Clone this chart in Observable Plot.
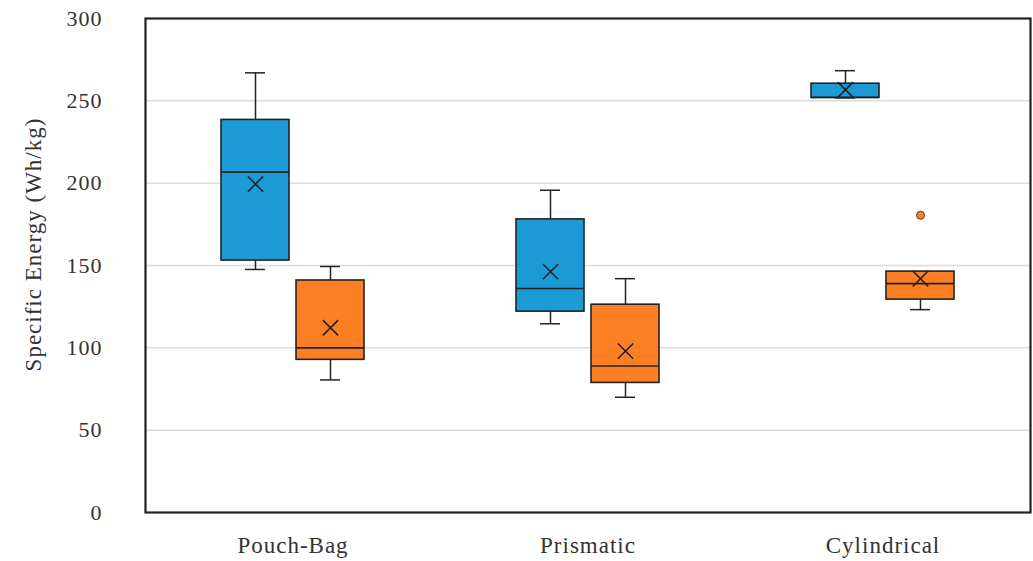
<!DOCTYPE html>
<html>
<head>
<meta charset="utf-8">
<script src="https://cdn.jsdelivr.net/npm/d3@7"></script>
<script src="https://cdn.jsdelivr.net/npm/@observablehq/plot@0.6"></script>
<style>
  body { margin: 0; background: #fff; }
  svg text { letter-spacing: 1px; }
</style>
</head>
<body>
<div id="chart"></div>
<script>
const categories = ["Pouch-Bag", "Prismatic", "Cylindrical"];
const yTicks = [0, 50, 100, 150, 200, 250, 300];
const yLabel = "Specific Energy (Wh/kg)";

// series 1 (blue)
const s1Min    = [147.6, 114.6, 251.8];
const s1Q1     = [153.0, 122.0, 251.8];
const s1Median = [206.7, 136.0, 252.0];
const s1Q3     = [238.4, 178.0, 260.4];
const s1Max    = [267.0, 195.7, 268.3];
const s1Mean   = [199.4, 146.3, 256.7];

// series 2 (orange)
const s2Min    = [80.5, 70.0, 123.2];
const s2Q1     = [92.7, 78.7, 129.3];
const s2Median = [100.0, 89.0, 139.0];
const s2Q3     = [140.9, 126.2, 146.3];
const s2Max    = [149.4, 142.0, 146.3];
const s2Mean   = [112.2, 98.0, 142.0];

const outlierCategory = ["Cylindrical"];
const outlierValue = [180.5];

const width = 1033, height = 561;
const marginLeft = 145, marginRight = 3, marginTop = 18, marginBottom = 49;
const bw = (width - marginLeft - marginRight) / categories.length;
const boxW = 68, capW = 20, offset = 37.5;

function table(mins, q1s, meds, q3s, maxs, means) {
  return categories.map((c, i) => ({
    cat: c, min: mins[i], q1: q1s[i], median: meds[i], q3: q3s[i], max: maxs[i], mean: means[i]
  }));
}
const s1 = table(s1Min, s1Q1, s1Median, s1Q3, s1Max, s1Mean);
const s2 = table(s2Min, s2Q1, s2Median, s2Q3, s2Max, s2Mean);
const outliers = outlierCategory.map((c, i) => ({cat: c, value: outlierValue[i]}));

const ink = "#222";

function boxMarks(data, o, fill) {
  const inset = (w) => ({insetLeft: bw / 2 + o - w / 2, insetRight: bw / 2 - o - w / 2});
  return [
    Plot.ruleX(data, {x: "cat", y1: "min", y2: "q1", dx: o, stroke: ink, strokeWidth: 1.5}),
    Plot.ruleX(data, {x: "cat", y1: "q3", y2: "max", dx: o, stroke: ink, strokeWidth: 1.5}),
    Plot.tickY(data, {x: "cat", y: "min", stroke: ink, strokeWidth: 1.5, ...inset(capW)}),
    Plot.tickY(data, {x: "cat", y: "max", stroke: ink, strokeWidth: 1.5, ...inset(capW)}),
    Plot.barY(data, {x: "cat", y1: "q1", y2: "q3", fill, stroke: ink, strokeWidth: 1.6, ...inset(boxW)}),
    Plot.tickY(data, {x: "cat", y: "median", stroke: ink, strokeWidth: 1.6, ...inset(boxW)}),
    Plot.dot(data, {x: "cat", y: "mean", dx: o, symbol: "times", r: 7, stroke: ink, strokeWidth: 1.6})
  ];
}

const chart = Plot.plot({
  width, height, marginLeft, marginRight, marginTop, marginBottom,
  style: {fontFamily: "'Liberation Serif', serif", fontSize: "22px", color: "#333", background: "#fff"},
  x: {domain: categories, padding: 0},
  y: {domain: [0, 300]},
  marks: [
    Plot.ruleY(yTicks.filter(d => d > 0 && d < 300), {stroke: "#dcdcdc", strokeWidth: 1.5}),
    Plot.axisY({ticks: yTicks, tickSize: 0, tickPadding: 43, fontSize: 22, label: null}),
    Plot.text([yLabel], {frameAnchor: "left", textAnchor: "middle", rotate: -90, dx: -112, dy: -21, fontSize: 23, fill: "#333"}),
    Plot.axisX({tickSize: 0, tickPadding: 24, fontSize: 23, label: null}),
    ...boxMarks(s1, -offset, "#1b9ad6"),
    ...boxMarks(s2, offset, "#fd7f24"),
    Plot.dot(outliers, {x: "cat", y: "value", dx: offset, r: 4, fill: "#fd7f24", stroke: "#5a3a20", strokeWidth: 1}),
    Plot.frame({stroke: ink, strokeWidth: 2.2})
  ]
});
document.getElementById("chart").appendChild(chart);
</script>
</body>
</html>
